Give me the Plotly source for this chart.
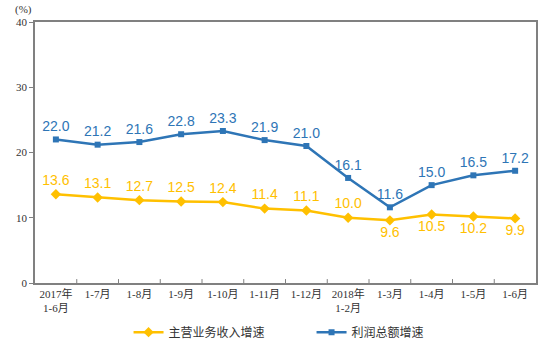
import plotly.graph_objects as go

categories = ["2017年<br>1-6月", "1-7月", "1-8月", "1-9月", "1-10月", "1-11月", "1-12月",
              "2018年<br>1-2月", "1-3月", "1-4月", "1-5月", "1-6月"]
revenue_growth = [13.6, 13.1, 12.7, 12.5, 12.4, 11.4, 11.1, 10.0, 9.6, 10.5, 10.2, 9.9]
profit_growth = [22.0, 21.2, 21.6, 22.8, 23.3, 21.9, 21.0, 16.1, 11.6, 15.0, 16.5, 17.2]
revenue_label_pos = ["top center"] * 8 + ["bottom center"] * 4
y_ticks = [0, 10, 20, 30, 40]

ORANGE = "#FFC000"
BLUE = "#2E75B6"
CJK = "Noto Sans CJK SC"
SERIF = "Liberation Serif, Noto Sans CJK SC"

fig = go.Figure()
fig.add_trace(go.Scatter(
    x=list(range(len(categories))), y=revenue_growth, name="主营业务收入增速",
    mode="lines+markers+text",
    line=dict(color=ORANGE, width=2.5),
    marker=dict(symbol="diamond", size=8, color=ORANGE),
    text=[f"{v:.1f}" for v in revenue_growth], textposition=revenue_label_pos,
    textfont=dict(family="Liberation Sans", size=14, color=ORANGE),
    cliponaxis=False,
))
fig.add_trace(go.Scatter(
    x=list(range(len(categories))), y=profit_growth, name="利润总额增速",
    mode="lines+markers+text",
    line=dict(color=BLUE, width=2.5),
    marker=dict(symbol="square", size=6, color=BLUE),
    text=[f"{v:.1f}" for v in profit_growth], textposition="top center",
    textfont=dict(family="Liberation Sans", size=14, color=BLUE),
    cliponaxis=False,
))

fig.update_layout(
    width=547, height=346,
    margin=dict(l=35, r=11, t=22, b=63, autoexpand=False),
    paper_bgcolor="white", plot_bgcolor="white",
    showlegend=True,
    legend=dict(orientation="h", xref="container", x=0.235, xanchor="left",
                yref="container", y=0.04, yanchor="middle",
                font=dict(family=CJK, size=12, color="#333333"),
                entrywidth=138, entrywidthmode="pixels", tracegroupgap=0),
    xaxis=dict(
        range=[-0.5, len(categories) - 0.5], automargin=False,
        tickmode="array", tickvals=list(range(len(categories))), ticktext=categories,
        showgrid=False, zeroline=False,
        showline=True, linecolor="#808080", linewidth=1.5, mirror=True,
        ticks="",
        tickfont=dict(family=SERIF, size=11, color="#333333"),
    ),
    yaxis=dict(
        range=[0, 40], tickvals=y_ticks, automargin=False,
        showgrid=False, zeroline=False,
        showline=True, linecolor="#808080", linewidth=1.5, mirror=True,
        ticks="outside", ticklen=4, tickcolor="#808080",
        tickfont=dict(family="Liberation Serif", size=11, color="#333333"),
    ),
    annotations=[dict(text="(%)", x=0, xref="paper", xanchor="center", xshift=-12,
                      y=1, yref="paper", yanchor="middle", yshift=13, showarrow=False,
                      font=dict(family="Liberation Serif", size=11, color="#333333"))],
)

# inward tick marks at category boundaries on x axis
for b in range(1, len(categories)):
    fig.add_shape(type="line", xref="x", yref="paper", x0=b - 0.5, x1=b - 0.5, y0=0, y1=0.015,
                  line=dict(color="#808080", width=1))

fig.write_html("out.html")
